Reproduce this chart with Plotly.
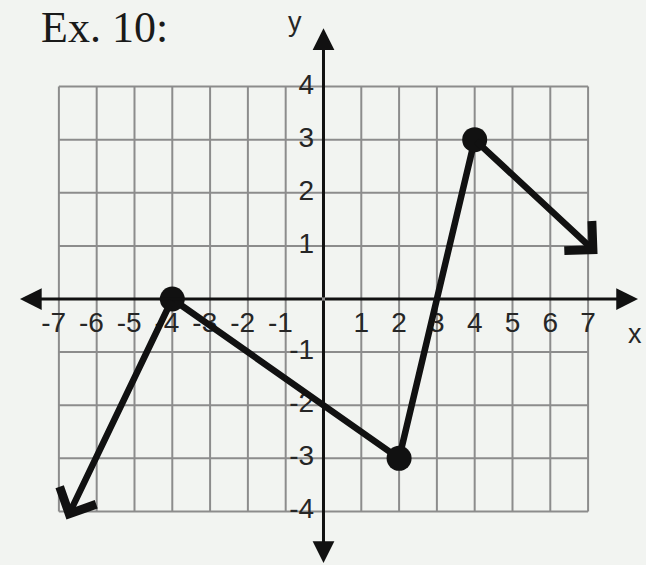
import plotly.graph_objects as go

# Piecewise graph: three plotted vertices joined by segments, with rays at both ends
vertex_x = [-4, 2, 4]
vertex_y = [0, -3, 3]
ray_from_x = [-4, 4]
ray_from_y = [0, 3]
ray_to_x = [-6.8, 7.25]
ray_to_y = [-4.15, 0.85]

# Grid and tick labels
x_ticks = [-7, -6, -5, -4, -3, -2, -1, 1, 2, 3, 4, 5, 6, 7]
y_ticks = [-4, -3, -2, -1, 1, 2, 3, 4]
x_grid = list(range(-7, 8))
y_grid = list(range(-4, 5))

# Axis arrow tips
x_axis_ends = [-8.03, 8.32]
y_axis_ends = [-4.97, 5.10]

INK = "#111111"
TEXT = "#262626"
GRID = "#8c8c8c"
BG = "#f2f4f1"
SANS = "Liberation Sans, Arial, sans-serif"

fig = go.Figure()

# grid lines
shapes = []
for gx in x_grid:
    shapes.append(dict(type="line", xref="x", yref="y", x0=gx, x1=gx,
                       y0=y_grid[0], y1=y_grid[-1], layer="below",
                       line=dict(color=GRID, width=2)))
for gy in y_grid:
    shapes.append(dict(type="line", xref="x", yref="y", y0=gy, y1=gy,
                       x0=x_grid[0], x1=x_grid[-1], layer="below",
                       line=dict(color=GRID, width=2)))

# tick labels (drawn beneath the graph line)
fig.add_trace(go.Scatter(
    x=[t - 0.14 if t < 0 else t for t in x_ticks],
    y=[-0.49] * len(x_ticks),
    text=[str(t) for t in x_ticks],
    mode="text", textposition="middle center",
    textfont=dict(family=SANS, size=28, color=TEXT),
    hoverinfo="skip", showlegend=False))
fig.add_trace(go.Scatter(
    x=[-0.25] * len(y_ticks),
    y=y_ticks,
    text=[str(t) for t in y_ticks],
    mode="text", textposition="middle left",
    textfont=dict(family=SANS, size=28, color=TEXT),
    hoverinfo="skip", showlegend=False))

# graph segments and vertex dots
fig.add_trace(go.Scatter(
    x=vertex_x, y=vertex_y, mode="lines+markers",
    line=dict(color=INK, width=6.5),
    marker=dict(color=INK, size=25),
    hoverinfo="skip", showlegend=False))

annotations = []
# axes with filled arrowheads
for xe in x_axis_ends:
    annotations.append(dict(x=xe, y=0, ax=0, ay=0, xref="x", yref="y",
                            axref="x", ayref="y", text="", showarrow=True,
                            arrowhead=2, arrowsize=1.45, arrowwidth=3,
                            arrowcolor=INK))
for ye in y_axis_ends:
    annotations.append(dict(x=0, y=ye, ax=0, ay=0, xref="x", yref="y",
                            axref="x", ayref="y", text="", showarrow=True,
                            arrowhead=2, arrowsize=1.45, arrowwidth=3,
                            arrowcolor=INK))
# rays with open arrowheads
for x0, y0, x1, y1 in zip(ray_from_x, ray_from_y, ray_to_x, ray_to_y):
    annotations.append(dict(x=x1, y=y1, ax=x0, ay=y0, xref="x", yref="y",
                            axref="x", ayref="y", text="", showarrow=True,
                            arrowhead=4, arrowsize=1.2, arrowwidth=6.5,
                            arrowcolor=INK))

# title and axis names
annotations.append(dict(x=-7.5, y=5.6, xref="x", yref="y", text="Ex. 10:",
                        showarrow=False, xanchor="left", yanchor="top",
                        borderpad=0,
                        font=dict(family="Liberation Serif, Times New Roman, serif",
                                  size=44, color="#1a1a1a")))
annotations.append(dict(x=-0.75, y=5.22, xref="x", yref="y", text="y",
                        showarrow=False, font=dict(family=SANS, size=27, color=TEXT)))
annotations.append(dict(x=8.24, y=-0.66, xref="x", yref="y", text="x",
                        showarrow=False, font=dict(family=SANS, size=27, color=TEXT)))

fig.update_layout(
    width=646, height=565,
    margin=dict(l=0, r=0, t=0, b=0),
    paper_bgcolor=BG, plot_bgcolor=BG,
    shapes=shapes, annotations=annotations,
    xaxis=dict(range=[-8.558, 8.532], visible=False, fixedrange=True),
    yaxis=dict(range=[-5.009, 5.631], visible=False, fixedrange=True),
    showlegend=False,
)

fig.write_html("out.html")
